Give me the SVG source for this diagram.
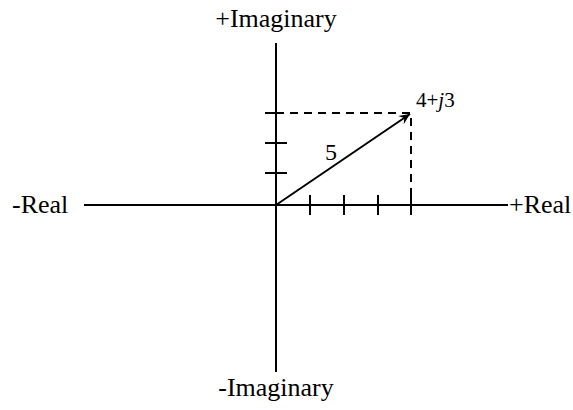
<svg xmlns="http://www.w3.org/2000/svg" width="573" height="410" viewBox="0 0 573 410">
<style>
.ln{stroke:#000;stroke-width:2;fill:none}
.dash{stroke:#000;stroke-width:2;fill:none;stroke-dasharray:8,6}
.t{font-family:'Liberation Serif','DejaVu Serif','Times New Roman',serif;fill:#000}
</style>
<defs>
<marker id="ah" viewBox="0 0 12 10" refX="11" refY="5" markerWidth="12" markerHeight="10" markerUnits="userSpaceOnUse" orient="auto">
<path d="M0,0 L11,5 L0,10 L4,5 Z" fill="#000"/>
</marker>
</defs>
<g id="connectors">
<line class="ln" x1="84" y1="205" x2="508" y2="205"/>
<line class="ln" x1="276" y1="43" x2="276" y2="372"/>
<line class="ln" x1="310" y1="195" x2="310" y2="215"/>
<line class="ln" x1="344" y1="195" x2="344" y2="215"/>
<line class="ln" x1="378" y1="195" x2="378" y2="215"/>
<line class="ln" x1="411" y1="195" x2="411" y2="215"/>
<line class="ln" x1="265" y1="173" x2="287" y2="173"/>
<line class="ln" x1="265" y1="143" x2="287" y2="143"/>
<line class="ln" x1="265" y1="113" x2="276" y2="113"/>
<path class="dash" d="M276,113 H411 V195"/>
<line class="ln" x1="276" y1="205" x2="410" y2="114" marker-end="url(#ah)"/>
</g>
<g id="labels">
<text class="t" x="12" y="213" font-size="26">-Real</text>
<text class="t" x="509" y="213" font-size="26">+Real</text>
<text class="t" x="276" y="27" font-size="26" text-anchor="middle">+Imaginary</text>
<text class="t" x="276" y="396" font-size="26" text-anchor="middle">-Imaginary</text>
<text class="t" x="325" y="160" font-size="24">5</text>
<text class="t" x="416" y="107" font-size="21">4+<tspan font-style="italic">j</tspan>3</text>
</g>
</svg>
